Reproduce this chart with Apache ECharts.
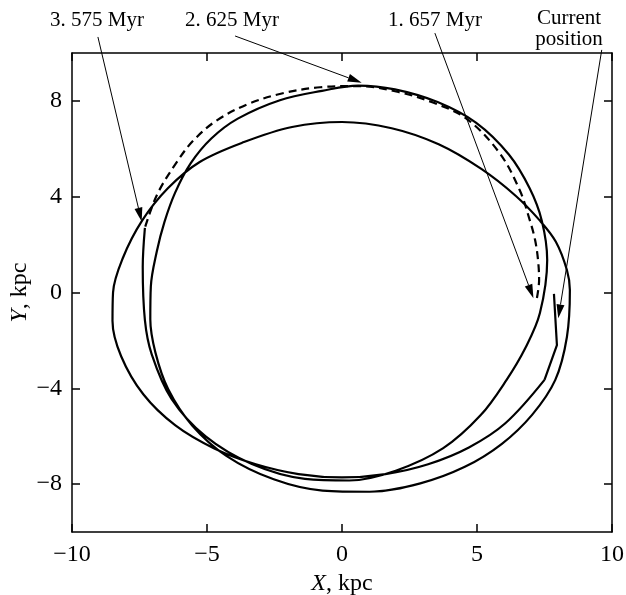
<!DOCTYPE html>
<html>
<head>
<meta charset="utf-8">
<script src="https://cdn.jsdelivr.net/npm/echarts@6/dist/echarts.min.js"></script>
<style>
html,body{margin:0;padding:0;background:#fff}
#chart{width:626px;height:595px}
</style>
</head>
<body>
<div id="chart"></div>
<script>
// Orbit segment from 657 to 575 Myr ago (dashed), X/Y in kpc
const orbitEarly = [
  [7.22,-0.23],[7.3,0.52],[7.26,1.36],[7.15,2.2],[6.96,3.0],[6.58,4.28],[5.83,5.83],
  [4.62,7.25],[3.37,7.93],[2.09,8.37],[0.6,8.62],[-0.81,8.57],[-2.23,8.31],[-3.5,7.86],
  [-4.66,7.17],[-5.51,6.34],[-6.09,5.49],[-6.84,4.11],[-7.3,2.7]
];
// Orbit from 575 Myr ago onwards (solid)
const orbitLate = [
  // first pass on the left, across the bottom and up the right side
  [-7.3,2.7],[-7.38,1.06],[-7.3,-1.15],[-7.05,-2.57],[-6.32,-4.43],[-5.05,-6.01],
  [-3.34,-7.16],[-1.37,-7.78],[0.27,-7.85],[1.99,-7.44],[3.75,-6.5],[5.13,-5.13],
  [6.09,-3.66],[6.8,-2.3],[7.33,-0.86],[7.6,1.36],[7.4,3.0],
  // outer arc over the top, down the left
  [6.95,4.35],[6.18,5.76],[4.96,7.09],[3.54,7.95],[1.96,8.48],[0.6,8.64],[-0.74,8.42],
  [-2.3,8.03],[-3.86,7.26],[-4.84,6.43],[-5.6,5.4],[-6.18,4.17],[-6.58,2.93],
  [-6.86,1.71],[-7.08,0.25],[-7.1,-1.12],
  // wide arc along the bottom, out to the right
  [-6.91,-2.51],[-6.44,-4.03],[-5.55,-5.55],[-4.27,-6.83],[-2.53,-7.8],[-0.72,-8.27],
  [1.02,-8.32],[2.9,-7.97],[4.55,-7.28],[5.91,-6.33],[7.04,-5.11],[7.9,-3.65],
  [8.33,-1.86],[8.44,0.1],[8.33,0.94],[7.92,2.12],[7.33,3.0],
  // inner arc over the top
  [6.44,4.03],[5.16,5.16],[3.58,6.19],[1.84,6.86],[0,7.12],[-1.85,6.91],[-3.63,6.28],
  [-5.27,5.45],
  // outer pass on the left and final pass along the bottom
  [-6.45,4.35],[-7.41,2.99],[-8.12,1.43],[-8.48,0],[-8.5,-1.19],[-8.18,-2.66],
  [-7.36,-4.25],[-6.17,-5.55],[-4.73,-6.51],[-3.19,-7.17],[-1.61,-7.58],[0,-7.72],
  [1.61,-7.58],[3.19,-7.17],[4.7,-6.47],[6.06,-5.45],[7.5,-3.65]
];
// Last stretch up to the current position
const orbitNow = [[7.5,-3.65],[7.96,-2.2],[7.85,-0.06]];

const xTicks = [-10,-5,0,5,10];
const yTicks = [-8,-4,0,4,8];

// Epoch labels with their pointer arrows (start near label, tip on the orbit)
const epochLabels = ['3. 575 Myr','2. 625 Myr','1. 657 Myr','Current\nposition'];
const arrowFrom = [[-9.04,10.67],[-3.96,10.71],[3.44,10.83],[9.62,10.13]];
const arrowTo   = [[-7.42,2.96],[0.73,8.76],[7.09,-0.24],[8.01,-1.08]];

const FONT = '"Liberation Serif", "Times New Roman", serif';
const minus = v => String(v).replace('-', '\u2212');

const chart = echarts.init(document.getElementById('chart'), null, {renderer:'canvas'});

const axisLine = {show:true, onZero:false, lineStyle:{color:'#000', width:1.5}};
const tickIn = {show:true, inside:true, length:8, lineStyle:{color:'#000', width:1.5}};
const nameStyle = {color:'#000', fontFamily:FONT, fontSize:24,
  rich:{i:{fontStyle:'italic', fontFamily:FONT, fontSize:24, color:'#000'}}};

chart.setOption({
  animation:false,
  backgroundColor:'#fff',
  grid:{left:72, right:14, top:53, bottom:63, containLabel:false, outerBoundsMode:'none'},
  xAxis:[
    {type:'value', min:-10, max:10, interval:5, position:'bottom',
     axisLine, axisTick:Object.assign({customValues:xTicks}, tickIn), splitLine:{show:false},
     axisLabel:{customValues:xTicks, color:'#000', fontFamily:FONT, fontSize:24, margin:11, formatter:minus},
     name:'{i|X}, kpc', nameLocation:'middle', nameGap:38, nameTextStyle:nameStyle},
    {type:'value', min:-10, max:10, interval:5, position:'top',
     axisLine, axisTick:Object.assign({customValues:xTicks}, tickIn), splitLine:{show:false},
     axisLabel:{show:false}}
  ],
  yAxis:[
    {type:'value', min:-10, max:10, position:'left',
     axisLine, axisTick:Object.assign({customValues:yTicks}, tickIn), splitLine:{show:false},
     axisLabel:{customValues:yTicks, color:'#000', fontFamily:FONT, fontSize:24, margin:10, formatter:minus},
     name:'{i|Y}, kpc', nameLocation:'middle', nameGap:40, nameRotate:90, nameMoveOverlap:false,
     nameTextStyle:nameStyle},
    {type:'value', min:-10, max:10, position:'right',
     axisLine, axisTick:Object.assign({customValues:yTicks}, tickIn), splitLine:{show:false},
     axisLabel:{show:false}}
  ],
  series:[
    {type:'line', data:orbitEarly, showSymbol:false, smooth:0.35,
     lineStyle:{color:'#000', width:2.2, type:[8,5]}},
    {type:'line', data:orbitLate, showSymbol:false, smooth:0.35,
     lineStyle:{color:'#000', width:2.2}},
    {type:'line', data:orbitNow, showSymbol:false, smooth:false,
     lineStyle:{color:'#000', width:2.2}}
  ]
});

// Pointer arrows and epoch labels, placed through the chart's own scales
function drawAnnotations(){
  const els = [];
  for (let i = 0; i < arrowFrom.length; i++){
    const a = chart.convertToPixel({gridIndex:0}, arrowFrom[i]);
    const b = chart.convertToPixel({gridIndex:0}, arrowTo[i]);
    const dx = b[0]-a[0], dy = b[1]-a[1], L = Math.hypot(dx,dy);
    const ux = dx/L, uy = dy/L, hl = 14, hw = 4;
    const bx = b[0]-ux*hl, by = b[1]-uy*hl;
    els.push({type:'line', silent:true, z:10,
      shape:{x1:a[0], y1:a[1], x2:bx, y2:by},
      style:{stroke:'#000', lineWidth:1}});
    els.push({type:'polygon', silent:true, z:10,
      shape:{points:[[b[0],b[1]],[bx-uy*hw, by+ux*hw],[bx+uy*hw, by-ux*hw]]},
      style:{fill:'#000'}});
  }
  const labelPos = [[97,20],[232,20],[435,20],[569,29]];
  epochLabels.forEach((t,i) => {
    els.push({type:'text', silent:true, z:10, x:labelPos[i][0], y:labelPos[i][1],
      style:{text:t, fill:'#000', font:'21px ' + FONT, align:'center', verticalAlign:'middle', lineHeight:21}});
  });
  chart.setOption({graphic:{elements:els}});
}
drawAnnotations();
</script>
</body>
</html>
